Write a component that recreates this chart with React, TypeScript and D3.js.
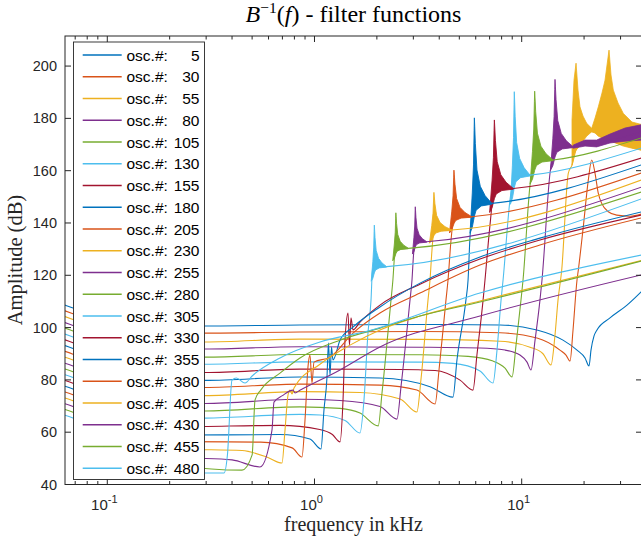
import React from "react";
import * as d3 from "d3";

// ---------- data (frequency in kHz, amplitude in dB) ----------
const oscNumbers = [5, 30, 55, 80, 105, 130, 155, 180, 205, 230, 255, 280, 305, 330, 355, 380, 405, 430, 455, 480];
const seriesColors = ["#0072BD", "#D95319", "#EDB120", "#7E2F8E", "#77AC30", "#4DBEEE", "#A2142F"];

const osc5 = [[0.0625,108.6],[0.0683,107.5],[0.0922,103.7],[0.1438,101.3],[0.296,100.6],[0.851,101.0],[3.23,101.2],[7.86,101.0],[11.85,99.1],[15.82,95.2],[18.49,91.4],[20.21,88.4],[21.13,85.3],[21.60,91.4],[22.34,96.8],[23.09,99.1],[26.68,103.7],[32.23,108.6],[38.07,114.0]];
const osc30 = [[0.0625,106.4],[0.0683,105.3],[0.0922,101.3],[0.1438,98.7],[0.296,97.9],[0.851,98.3],[3.23,98.5],[7.86,98.0],[11.85,96.0],[15.3,91.4],[16.36,89.5],[17.11,87.2],[17.69,99.1],[18.49,118.2],[18.76,122.0],[19.83,138.6],[20.96,156.4],[21.77,164.1],[22.59,159.0],[23.43,151.3],[24.33,147.5],[26.18,144.3],[28.74,143.0],[33.32,142.6],[38.07,143.5]];
const osc55 = [[0.0625,104.2],[0.0683,103.1],[0.0922,99.0],[0.1438,95.6],[0.296,94.5],[0.851,95.6],[3.23,95.5],[7.86,94.8],[10.97,92.5],[12.67,90.0],[13.85,85.7],[14.48,97.2],[14.97,110.5],[15.60,122.0],[16.78,159.0],[17.49,162.1],[18.29,167.9],[21.77,174.9],[26.39,171.7],[38.07,167.8]];
const osc80 = [[0.0625,101.9],[0.0683,100.8],[0.0922,96.5],[0.1438,92.8],[0.296,91.8],[0.851,92.7],[3.23,92.5],[6.29,92.2],[8.31,91.4],[9.81,89.5],[10.61,86.8],[11.09,83.8],[11.60,95.2],[12.25,110.5],[12.53,118.2],[13.70,159.1],[14.48,168.5],[17.74,169.1],[23.0,170.6],[31.52,173.0],[38.07,174.9]];
const osc105 = [[0.0625,99.8],[0.0683,98.7],[0.0922,94.0],[0.1438,89.8],[0.296,88.7],[0.851,89.7],[3.23,89.6],[5.51,89.0],[7.27,87.2],[8.31,84.5],[8.98,81.1],[9.39,93.3],[9.92,110.5],[10.15,118.2],[10.97,154.5],[11.55,163.5],[14.16,164.1],[38.07,172.6]];
const osc130 = [[0.0625,97.5],[0.0683,96.4],[0.0922,91.5],[0.1438,87.2],[0.296,86.0],[0.851,86.9],[3.23,86.8],[4.66,86.3],[6.29,83.4],[7.27,78.8],[7.60,91.4],[7.95,110.5],[8.13,118.2],[8.78,148.8],[9.21,157.8],[10.97,158.3],[38.07,168.7]];
const osc155 = [[0.0625,95.3],[0.0683,94.2],[0.0922,89.0],[0.1438,84.2],[0.296,82.8],[0.851,84.1],[2.59,84.0],[3.82,83.6],[5.04,79.9],[5.82,76.1],[6.08,89.5],[6.51,110.5],[6.65,118.2],[7.03,139.2],[7.38,152.7],[9.11,153.2],[38.07,164.9]];
const osc180 = [[0.0625,93.1],[0.0683,92.0],[0.0922,86.5],[0.1438,81.2],[0.296,79.8],[0.851,81.1],[2.07,80.7],[3.61,77.4],[4.66,73.4],[4.87,87.6],[5.38,110.5],[5.51,118.2],[5.63,134.6],[5.91,147.0],[7.17,147.5],[38.07,162.3]];
const osc205 = [[0.0625,90.9],[0.0683,89.8],[0.0922,84.0],[0.1438,78.5],[0.296,77.1],[0.851,78.4],[2.07,78.0],[3.12,76.1],[3.82,70.8],[3.99,83.8],[4.31,110.5],[4.41,118.2],[4.56,133.5],[4.71,141.9],[5.74,142.4],[38.07,159.2]];
const osc230 = [[0.0625,88.7],[0.0683,87.6],[0.0922,81.5],[0.1438,75.6],[0.296,74.0],[0.851,75.5],[1.658,75.2],[2.59,72.7],[3.12,67.7],[3.27,80.7],[3.53,110.5],[3.61,118.2],[3.69,129.7],[3.77,137.0],[4.60,137.3],[38.07,156.5]];
const osc255 = [[0.0625,86.4],[0.0683,85.3],[0.0922,79.0],[0.1438,72.8],[0.296,71.0],[0.851,72.6],[1.328,72.1],[2.07,69.8],[2.50,65.0],[2.62,78.0],[2.89,110.5],[2.955,118.2],[3.005,127.7],[3.065,132.5],[3.48,132.8],[38.07,153.8]];
const osc280 = [[0.0625,84.2],[0.0683,83.1],[0.0922,76.5],[0.1438,70.1],[0.296,68.1],[0.851,69.7],[1.328,69.1],[1.658,67.3],[2.03,62.4],[2.12,75.4],[2.34,110.5],[2.39,118.2],[2.43,126.6],[2.47,130.0],[2.84,130.3],[38.07,151.9]];
const osc305 = [[0.0625,82.0],[0.0683,80.9],[0.0922,74.0],[0.1438,67.3],[0.296,65.4],[0.851,66.8],[1.063,66.6],[1.404,64.5],[1.658,59.7],[1.733,72.3],[1.812,97.9],[1.874,110.5],[1.905,122.0],[1.944,123.0],[2.231,123.3],[38.07,149.3]];
const osc330 = [[0.0625,79.8],[0.0683,78.7],[0.0922,71.5],[0.1438,64.5],[0.2243,62.1],[0.68,62.6],[1.06,61.0],[1.22,59.1],[1.328,56.3],[1.373,72.3],[1.404,95.2],[1.451,105.6],[1.475,93.3],[1.500,103.7],[1.534,99.1],[1.658,102.1],[2.07,108.6],[3.23,116.6],[6.29,126.2],[12.25,133.5],[38.07,143.1]];
const osc355 = [[0.0625,77.6],[0.0683,76.5],[0.0922,69.0],[0.1438,61.7],[0.2243,58.9],[0.68,59.1],[0.95,57.4],[1.075,53.6],[1.111,68.5],[1.149,81.1],[1.168,94.1],[1.188,81.9],[1.208,92.6],[1.228,87.6],[1.328,95.2],[1.534,100.2],[2.07,107.9],[3.23,117.0],[6.29,127.0],[12.25,134.2],[38.07,144.3]];
const osc380 = [[0.0625,75.4],[0.0683,74.3],[0.0922,66.5],[0.1438,58.8],[0.2243,56.4],[0.55,56.2],[0.78,54.0],[0.87,50.5],[0.900,64.7],[0.930,84.9],[0.951,89.5],[0.9725,78.8],[0.9945,86.8],[1.188,88.7],[1.534,97.9],[2.07,105.6],[3.23,113.2],[6.29,123.9],[12.25,131.6],[38.07,142.0]];
const osc405 = [[0.0625,73.1],[0.0683,72.0],[0.0922,64.0],[0.1438,56.0],[0.2243,53.6],[0.447,53.0],[0.596,50.3],[0.697,48.2],[0.7205,60.8],[0.745,74.2],[0.762,76.1],[0.779,74.6],[0.7965,76.9],[1.063,86.0],[1.484,93.3],[2.07,99.1],[3.23,104.4],[6.29,110.2],[38.07,125.7]];
const osc430 = [[0.0625,70.9],[0.0683,69.8],[0.0922,61.5],[0.1438,53.2],[0.2243,50.5],[0.40,49.4],[0.5457,46.7],[0.6234,60.8],[0.6375,71.5],[0.70,74.0],[0.7876,76.1],[0.8053,75.0],[0.85,76.0],[1.328,83.8],[2.07,92.6],[6.29,104.4],[38.07,120.2]];
const osc455 = [[0.0625,68.7],[0.0683,67.6],[0.0922,59.0],[0.1438,50.0],[0.2243,47.2],[0.4468,45.5],[0.50,51.3],[0.5163,72.3],[0.55,76.1],[0.6817,82.6],[0.8511,88.4],[1.328,95.2],[2.07,99.8],[3.23,104.4],[6.29,109.8],[38.07,125.5]];
const osc480 = [[0.0625,66.5],[0.0683,65.4],[0.0922,56.5],[0.1438,47.2],[0.2243,44.4],[0.3658,44.4],[0.38,51.3],[0.3998,79.9],[0.42,80.7],[0.462,78.8],[0.50,81.5],[0.6817,88.4],[1.063,94.5],[1.812,98.7],[6.29,113.2],[38.07,127.8]];

const seriesData = [osc5, osc30, osc55, osc80, osc105, osc130, osc155, osc180, osc205, osc230, osc255, osc280, osc305, osc330, osc355, osc380, osc405, osc430, osc455, osc480];

// resonance spikes: [series index, centre kHz, peak dB, settled dB, settle kHz]
const resonances = [
  [3, 14.48, 194.9, 169.1, 17.74],
  [4, 11.55, 190.4, 164.1, 14.16],
  [5, 9.21, 190.2, 158.3, 10.97],
  [6, 7.38, 179.4, 153.2, 9.11],
  [7, 5.91, 180.2, 147.5, 7.17],
  [8, 4.71, 160.2, 142.4, 5.74],
  [9, 3.77, 151.7, 137.3, 4.60],
  [10, 3.065, 146.2, 132.8, 3.48],
  [11, 2.47, 143.9, 130.3, 2.84],
  [12, 1.944, 139.2, 123.3, 2.231],
];
// envelope of a ringing spike: [position from centre (0) to settle (1), fraction of height]
const spikeUpper = [[-0.25,-0.35],[-0.12,0.12],[-0.05,0.45],[-0.015,0.85],[0,1],[0.02,0.9],[0.056,0.7],[0.15,0.39],[0.34,0.2],[0.62,0.09],[1,0]];
const spikeLower = [[1,-0.01],[0.4,-0.03],[0.1,-0.08],[0,-0.15],[-0.12,-0.28],[-0.25,-0.35]];

// dense oscillation bands: [kHz, low dB, high dB]
const band55 = [[17.49,162.1,179.4],[17.88,166.0,194.6],[18.29,167.9,201.1],[18.70,168.6,190.8],[19.11,169.8,184.4],[19.76,171.3,180.9],[20.59,173.2,178.1],[21.77,174.9,176.2],[22.59,174.4,180.1],[23.43,173.2,184.4],[24.41,172.5,189.7],[25.24,172.1,194.6],[25.81,171.7,200.4],[26.39,171.7,206.1],[26.98,171.3,196.6],[27.68,170.9,190.8],[29.16,170.2,185.9],[30.93,169.4,181.9],[34.07,168.6,178.6],[38.07,167.8,177.6]];
const band80 = [[17.74,168.6,169.8],[20.21,169.4,171.7],[23.0,169.1,171.7],[26.68,170.6,174.0],[31.52,171.3,176.3],[38.07,171.7,177.6]];

const yTickValues = [40, 60, 80, 100, 120, 140, 160, 180, 200];
const xMajorTicks = [0.1, 1, 10];
const xMajorExponents = ["-1", "0", "1"];

export default function App() {
  const W = 641, H = 537;
  const left = 65, right = 642, top = 36, bottom = 484.5;
  const x = d3.scaleLog().domain([0.0625, 38.07]).range([left, right]);
  const y = d3.scaleLinear().domain([40, 211.5]).range([bottom, top]);
  const axisColor = "#262626";
  const sans = "'Liberation Sans', Arial, Helvetica, sans-serif";
  const serif = "'Liberation Serif', 'Times New Roman', serif";

  const line = d3.line<number[]>().x(d => x(d[0])).y(d => y(d[1])).curve(d3.curveMonotoneX);
  const polyline = d3.line<number[]>().x(d => x(d[0])).y(d => y(d[1]));
  const area = d3.area<number[]>().x(d => x(d[0])).y0(d => y(d[1])).y1(d => y(d[2]));

  const minorTicks: number[] = [];
  [0.01, 0.1, 1, 10].forEach(dec => {
    for (let m = 2; m <= 9; m++) {
      const v = dec * m;
      if (v > 0.0625 && v < 38.07) minorTicks.push(v);
    }
  });

  const spikePath = (r: number[]) => {
    const [, f0, peak, base, fb] = r;
    const pts = [...spikeUpper, ...spikeLower].map(([t, v]) => [f0 * Math.pow(fb / f0, t), base + v * (peak - base)]);
    return polyline(pts) + "Z";
  };

  const legendTop = 55, legendStep = 21.75;

  return (
    <svg width={W} height={H} style={{ position: "absolute", left: 0, top: 0, background: "#fff" }}>
      <defs>
        <clipPath id="plot">
          <rect x={left} y={top} width={right - left} height={bottom - top} />
        </clipPath>
      </defs>
      <rect x={0} y={0} width={W} height={H} fill="#fff" />
      <g clipPath="url(#plot)">
        {seriesData.map((s, i) => {
          const color = seriesColors[i % 7];
          return (
            <g key={i}>
              {i === 2 && <path d={area(band55) || ""} fill={color} stroke={color} strokeWidth={0.8} />}
              {i === 3 && <path d={area(band80) || ""} fill={color} stroke={color} strokeWidth={0.8} />}
              {resonances.filter(r => r[0] === i).map((r, j) => (
                <path key={j} d={spikePath(r)} fill={color} stroke={color} strokeWidth={0.9} strokeLinejoin="miter" />
              ))}
              <path d={line(s) || ""} fill="none" stroke={color} strokeWidth={1.1} />
            </g>
          );
        })}
      </g>
      {/* axes box */}
      <rect x={left} y={top} width={right - left} height={bottom - top} fill="none" stroke={axisColor} strokeWidth={1} />
      {/* y ticks */}
      {yTickValues.map(v => (
        <g key={v}>
          <line x1={left} x2={left + 6} y1={y(v)} y2={y(v)} stroke={axisColor} strokeWidth={1} />
          <line x1={right - 6} x2={right} y1={y(v)} y2={y(v)} stroke={axisColor} strokeWidth={1} />
          <text x={left - 8} y={y(v) + 5} textAnchor="end" fontFamily={sans} fontSize={14.5} fill={axisColor}>{v}</text>
        </g>
      ))}
      {/* x ticks */}
      {xMajorTicks.map((v, i) => (
        <g key={v}>
          <line x1={x(v)} x2={x(v)} y1={bottom} y2={bottom - 6} stroke={axisColor} strokeWidth={1} />
          <line x1={x(v)} x2={x(v)} y1={top} y2={top + 6} stroke={axisColor} strokeWidth={1} />
          <text x={x(v) - 3} y={510} textAnchor="middle" fontFamily={sans} fontSize={15} fill={axisColor}>
            10<tspan dy={-7} fontSize={11}>{xMajorExponents[i]}</tspan>
          </text>
        </g>
      ))}
      {minorTicks.map(v => (
        <g key={v}>
          <line x1={x(v)} x2={x(v)} y1={bottom} y2={bottom - 3.5} stroke={axisColor} strokeWidth={1} />
          <line x1={x(v)} x2={x(v)} y1={top} y2={top + 3.5} stroke={axisColor} strokeWidth={1} />
        </g>
      ))}
      {/* legend */}
      <rect x={73.5} y={42} width={131} height={437.5} fill="#fff" stroke={axisColor} strokeWidth={0.9} />
      {oscNumbers.map((n, i) => {
        const yy = legendTop + i * legendStep;
        return (
          <g key={n}>
            <line x1={82.7} x2={121.7} y1={yy} y2={yy} stroke={seriesColors[i % 7]} strokeWidth={1.3} />
            <text x={126.5} y={yy + 5.5} fontFamily={sans} fontSize={15.5} fill="#000">osc.#:</text>
            <text x={199.5} y={yy + 5.5} textAnchor="end" fontFamily={sans} fontSize={15.5} fill="#000">{n}</text>
          </g>
        );
      })}
      {/* title and labels */}
      <text x={353.5} y={22} textAnchor="middle" fontFamily={serif} fontSize={24} fill="#000">
        <tspan fontStyle="italic">B</tspan>
        <tspan dy={-9} fontSize={15.5}>−1</tspan>
        <tspan dy={9}>(</tspan>
        <tspan fontStyle="italic">f</tspan>
        <tspan>) - filter functions</tspan>
      </text>
      <text x={353.5} y={531} textAnchor="middle" fontFamily={serif} fontSize={20} fill={axisColor}>frequency in kHz</text>
      <text transform={`translate(22,260) rotate(-90)`} textAnchor="middle" fontFamily={serif} fontSize={20.5} fill={axisColor}>Amplitude (dB)</text>
    </svg>
  );
}
